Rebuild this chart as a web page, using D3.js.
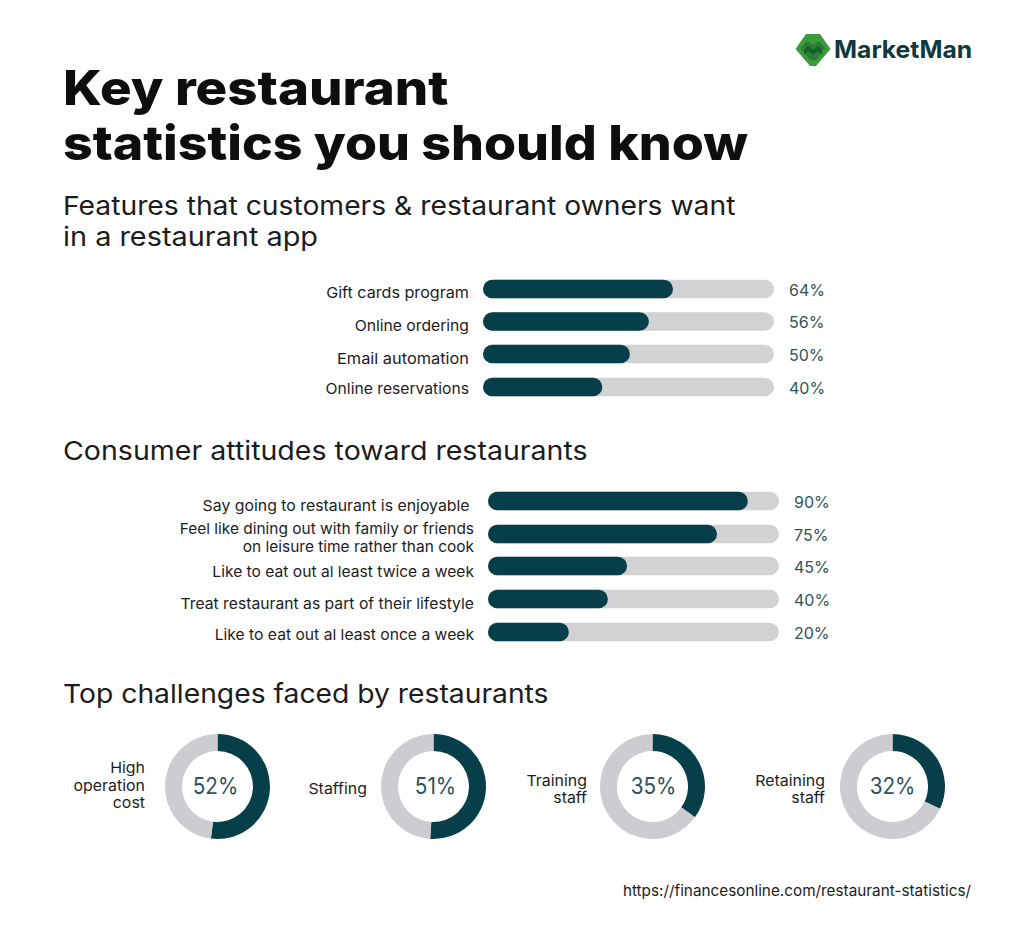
<!DOCTYPE html>
<html>
<head>
<meta charset="utf-8">
<title>Key restaurant statistics</title>
<script src="https://cdn.jsdelivr.net/npm/d3@7"></script>
<style>
html, body { margin: 0; padding: 0; background: #fff; }
text { font-family: Inter, "Open Sans", sans-serif; }
.title { font-size: 48px; font-weight: 800; fill: #0e0e10; }
.heading { font-size: 26px; font-weight: 400; fill: #1c1c1e; }
.label { font-size: 15px; font-weight: 400; fill: #1c1c1e; }
.value { font-size: 16px; font-weight: 400; fill: #2c5459; }
.donut-value { font-size: 23px; font-weight: 400; fill: #2c5459; }
.logo-text { font-size: 24px; font-weight: 700; fill: #10393f; }
.source { font-size: 15px; fill: #1c1c1e; }
</style>
</head>
<body>
<div id="chart"></div>
<script>
var DARK = "#063f49", TRACK = "#d2d2d4";

/* Features chart */
var featureNames = [["Gift cards program"], ["Online ordering"], ["Email automation"], ["Online reservations"]];
var featureLabels = ["64%", "56%", "50%", "40%"];
// bar lengths as drawn in the picture, they run a little past the printed figures
var featureBars = [65.3, 57, 50.5, 41];

/* Attitudes chart */
var attitudeNames = [
    ["Say going to restaurant is enjoyable\u00a0"],
    ["Feel like dining out with family or friends", "on leisure time rather than cook"],
    ["Like to eat out al least twice a week"],
    ["Treat restaurant as part of their lifestyle"],
    ["Like to eat out al least once a week"]
];
var attitudeLabels = ["90%", "75%", "45%", "40%", "20%"];
var attitudeBars = [89.3, 78.7, 47.8, 41.2, 27.8];

/* Challenges donuts */
var challengeNames = [["High", "operation", "cost"], ["Staffing"], ["Training", "staff"], ["Retaining", "staff"]];
var challengeValues = [52, 51, 35, 32];

var width = 1024, height = 928;

var svg = d3.select("#chart")
    .append("svg")
        .attr("width", width)
        .attr("height", height)
        .style("display", "block");

/* Stretches a text by a factor, the original face runs wider than Inter */
function stretch(sel, factor){
    sel.each(function(){
        this.setAttribute("textLength", this.getComputedTextLength() * factor);
        this.setAttribute("lengthAdjust", "spacingAndGlyphs");
    });
    return sel;
}

function addText(cls, x, y, str, factor, anchor){
    var t = svg.append("text")
        .attr("class", cls)
        .attr("x", x)
        .attr("y", y)
        .attr("text-anchor", anchor || "start")
        .text(str);
    return stretch(t, factor);
}

/* Titles */
addText("title", 63, 105, "Key restaurant", 1.10);
addText("title", 63, 160, "statistics you should know", 1.08);
addText("heading", 63, 215, "Features that customers & restaurant owners want", 1.087);
addText("heading", 63, 246, "in a restaurant app", 1.11);
addText("heading", 63, 460, "Consumer attitudes toward restaurants", 1.098);
addText("heading", 63, 703, "Top challenges faced by restaurants", 1.087);
addText("source", 971, 896, "https://financesonline.com/restaurant-statistics/", 1.02, "end");

/* Logo */
var logo = svg.append("g").attr("transform", "translate(813,50)");
logo.append("path")
    .attr("d", "M-7,-16 L7,-16 L17.5,-1 L3,16 L-3,16 L-17.5,-1 Z")
    .attr("fill", "#3d9a3f");
logo.append("path")
    .attr("d", "M-12,-2 L-6,-9 L0,-5 L6,-9 L12,-2 L3,10 L-3,10 Z")
    .attr("fill", "#2a7f35");
logo.append("path")
    .attr("d", "M-9,0 L-5,-4 L0,0 L5,-4 L9,0 L9,5 L5,1 L0,5 L-5,1 L-9,5 Z")
    .attr("fill", "#175f28");
addText("logo-text", 834, 58, "MarketMan", 1.03);

/**
 * Draws one horizontal bar chart
 *
 * @param {Array} names - label lines per row
 * @param {Array} labels - printed percentages
 * @param {Array} bars - drawn bar lengths
 * @param {Array} rows - row centres
 * @param {Array} nameY - first line baseline per row
 * @param {Number} x0 - left edge of the tracks
 * @param {Array} fits - stretch of the row labels
 */
function drawBars(names, labels, bars, rows, nameY, x0, fits){
    var x = d3.scaleLinear().domain([0, 100]).range([x0, x0 + 291]);
    var barH = 18.5;
    var g = svg.append("g");

    g.selectAll(".track")
        .data(bars)
        .enter()
        .append("rect")
            .attr("class", "track")
            .attr("x", x(0))
            .attr("y", function(d, i){ return rows[i] - barH / 2; })
            .attr("width", x(100) - x(0))
            .attr("height", barH)
            .attr("rx", barH / 2)
            .attr("fill", TRACK);

    g.selectAll(".bar")
        .data(bars)
        .enter()
        .append("rect")
            .attr("class", "bar")
            .attr("x", x(0))
            .attr("y", function(d, i){ return rows[i] - barH / 2; })
            .attr("width", function(d){ return x(d) - x(0); })
            .attr("height", barH)
            .attr("rx", barH / 2)
            .attr("fill", DARK);

    g.selectAll(".value")
        .data(labels)
        .enter()
        .append("text")
            .attr("class", "value")
            .attr("x", x(100) + 15)
            .attr("y", function(d, i){ return rows[i] + 6.5; })
            .text(function(d){ return d; });

    names.forEach(function(lines, i){
        lines.forEach(function(line, j){
            addText("label", x0 - 14, nameY[i] + j * 18, line, fits[i], "end");
        });
    });
}

drawBars(featureNames, featureLabels, featureBars, [289, 321.5, 354, 387], [298, 331, 364, 394], 483, [1.075, 1.046, 1.09, 1.045]);
drawBars(attitudeNames, attitudeLabels, attitudeBars, [501, 534, 566, 599, 632], [511, 534, 576.5, 609, 639.5], 488, [1.055, 1.03, 1.04, 1.047, 1.044]);

/* Donuts */
var donutX = [217.5, 433.5, 652.5, 892.5];
var valueShift = [-2, 2, 1, 0];
var labelX = [145, 367, 587, 825];
var labelY = [790.5, 794, 794.5, 794.5];
var arc = d3.arc().innerRadius(35.5).outerRadius(52.5);
var pie = d3.pie().sort(null);

challengeValues.forEach(function(v, i){
    var g = svg.append("g").attr("transform", "translate(" + donutX[i] + ",786.5)");
    g.selectAll("path")
        .data(pie([v, 100 - v]))
        .enter()
        .append("path")
            .attr("d", arc)
            .attr("fill", function(d, k){ return k === 0 ? DARK : "#cdccd0"; });
    var t = g.append("text")
        .attr("class", "donut-value")
        .attr("text-anchor", "middle")
        .attr("x", valueShift[i])
        .attr("y", 7.5)
        .text(v + "%");
    stretch(t, 0.9);

    var lines = challengeNames[i];
    lines.forEach(function(line, j){
        addText("label", labelX[i], labelY[i] + (j - (lines.length - 1) / 2) * 17.5, line, 1.06, "end");
    });
});
</script>
</body>
</html>
